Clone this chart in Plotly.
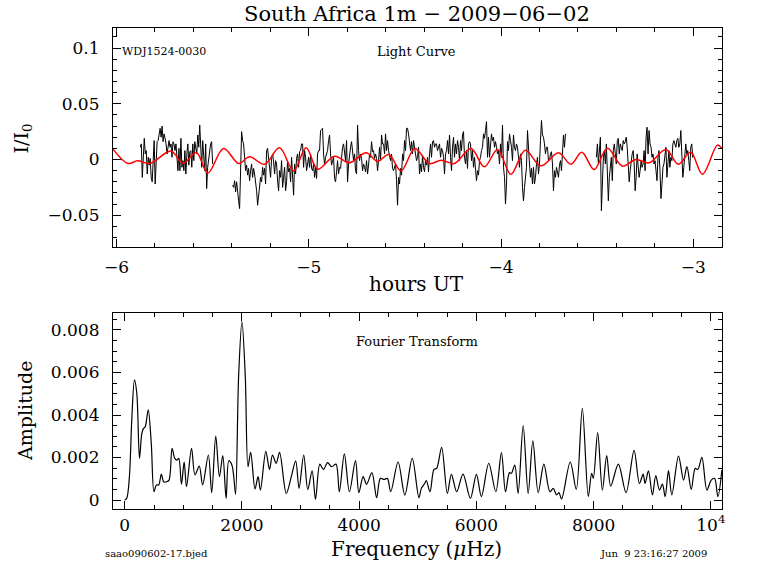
import numpy as np
import plotly.graph_objects as go

# ---------------- Light curve data (flux in units of 1e-3 I/I0) ----------------
seg_a_start, seg_a_end = -5.876, -5.500
seg_a_flux = [11,14,-16,11,19,5,8,-13,2,-5,1,-16,-20,-1,17,-22,5,16,17,23,28,20,30,16,23,19,14,5,11,17,
              11,14,2,16,14,8,14,4,-10,10,-10,19,-7,-1,-10,8,-13,5,14,-5,7,8,-7,14,-1,16,11,5,22,11,
              31,5,-7,17,7,-10,14,-26,-7,2,5,14,16,-4]

seg_b_start, seg_b_end = -5.396, -3.665
seg_b_flux = [-23,-25,-19,-29,-20,-32,-37,-44,-13,25,17,14,2,-10,-5,-14,-8,-19,-10,-4,-16,-8,-13,-19,-28,-41,-31,-22,-16,-20,
              -7,-14,-8,-22,8,10,-1,-5,-16,1,5,
              -2,-13,-1,-4,-19,-28,-10,-16,-1,-25,-16,-7,-28,-20,-1,-11,-8,-20,2,-16,-32,-4,-13,1,5,-7,7,8,14,14,
              -7,8,2,-10,-4,2,-7,5,-8,-10,-4,-16,-7,-17,5,8,8,26,27,28,5,-5,2,5,8,17,22,5,-5,-1,2,-17,-20,-11,
              -1,-13,-7,-8,5,11,14,7,-1,17,-20,-4,5,11,16,8,-1,5,-10,-13,31,8,-1,5,1,-10,-4,-7,-11,-1,-13,-5,
              5,2,16,7,8,1,5,1,-10,-1,11,-1,22,14,14,5,23,8,17,8,2,-1,5,-8,-10,-7,-4,-19,-41,-16,-22,-8,-14,5,
              -1,17,8,28,28,23,14,8,16,5,17,11,8,-1,2,11,-13,-4,-11,4,-7,-11,-1,-5,2,
              -11,5,14,2,16,17,11,14,14,8,11,14,2,10,8,2,-13,5,8,17,5,22,2,-10,11,20,2,14,5,17,11,-1,17,8,22,
              25,2,-4,8,-8,14,16,14,-1,8,-7,2,-11,-19,-10,-14,-1,2,8,11,23,19,26,34,2,20,2,11,23,17,20,11,16,
              11,5,8,-4,14,2,31,-7,-16,-40,-22,16,8,23,17,11,-1,22,11,8,14,11,2,-7,5,-1,-25,-37,-25,-14,-7,26,
              5,-4,-16,-8,-22,-7,-22,-16,-4,2,-13,-4,17,35,22,20,14,5,11,11,-1,-1,5,7,-4,-28,-10,-16,-7,-11,
              -16,-5,-1,-10,14,22,11,23]

seg_c_start, seg_c_end = -3.504, -2.998
seg_c_flux = [2,14,-4,8,20,-46,-16,2,8,-4,14,-25,-37,-16,-4,2,-19,8,14,5,-4,17,19,5,14,11,8,17,14,16,
              20,11,-4,-20,-10,-1,5,8,-4,-28,-16,5,-4,-16,-10,-1,-7,-4,8,-10,20,29,5,26,14,11,2,5,-4,-1,
              -10,-19,2,8,-10,-35,-22,-7,-4,8,11,-16,-1,8,-7,2,-1,14,17,14,11,17,19,11,14,26,2,-16,-7,2,
              14,5,8,-1,-10,11,14,2,5]

# Red model curve (extrema, hours / flux 1e-3)
red_t = [-6.018,-5.940,-5.890,-5.828,-5.715,-5.655,-5.585,-5.525,-5.443,-5.364,
         -5.308,-5.230,-5.152,-5.079,-5.014,-4.953,-4.866,-4.789,-4.702,-4.642,
         -4.584,-4.520,-4.448,-4.373,-4.312,-4.243,-4.156,-4.087,-4.018,-3.949,
         -3.874,-3.793,-3.701,-3.637,-3.580,-3.516,-3.447,-3.369,-3.299,-3.230,
         -3.143,-3.078,-3.014,-2.953,-2.875,-2.852]
red_f = [9.3,-3.6,-1.2,-3.6,7.5,-3.6,6.3,-12.0,9.9,-3.6,
         2.4,-4.2,10.5,-10.2,10.5,-8.7,3.0,-3.0,6.0,-1.5,
         4.5,-10.2,9.9,-3.6,-0.6,-3.6,9.9,-6.6,9.0,-13.2,
         8.4,-5.7,6.0,-4.2,6.6,-9.0,10.2,-6.0,0.0,-3.0,
         9.0,-4.2,6.6,-13.2,12.9,9.9]

# ---------------- Fourier transform (frequency in uHz, amplitude in 1e-3) ----------------
ft_freq = [0,34,80,120,166,206,252,292,321,350,401,453,499,539,579,625,665,711,756,808,
           854,894,923,968,1014,1054,1140,1198,1272,1329,1427,1484,1553,1616,1673,1730,1776,1828,1857,1891,
           1943,2000,2057,2103,2149,2223,2275,2315,2407,2470,2521,2584,2642,2756,2842,2917,2974,3054,3123,3197,
           3255,3329,3392,3461,3530,3604,3661,3747,3833,3937,3994,4068,4126,4217,4298,4361,4424,4481,4538,4664,
           4779,4905,5019,5060,5117,5145,5208,5276,5322,5407,5504,5573,5664,5772,5897,6000,6085,6211,6331,6427,
           6496,6564,6598,6655,6712,6798,6883,6963,7054,7151,7254,7311,7368,7408,7453,7601,7704,7807,7909,7966,
           7995,8069,8149,8223,8291,8422,8553,8690,8781,8844,8878,8935,9003,9060,9123,9174,9220,9277,9334,9448,
           9534,9591,9665,9733,9778,9847,9932,10006,10063,10120,10188]
ft_amp = [0.0,0.08,1.10,3.77,5.65,5.02,1.96,3.14,3.37,3.45,4.24,2.67,0.39,0.71,0.71,1.22,0.86,0.86,0.94,2.43,
          1.96,1.88,1.96,0.74,1.80,0.63,2.43,1.18,1.60,0.71,2.12,0.35,3.01,1.10,2.09,0.08,1.85,1.65,1.18,0.27,
          5.81,8.39,5.81,1.57,2.24,0.52,1.10,0.47,2.29,1.44,2.12,1.73,2.24,0.31,1.10,1.84,0.55,2.12,0.50,1.37,
          0.03,1.69,1.44,1.76,1.57,1.69,0.39,2.17,0.39,1.85,0.35,1.10,0.74,1.29,0.11,1.02,0.97,1.02,0.39,1.79,
          0.24,1.96,0.11,0.55,0.78,0.91,0.39,1.44,1.49,2.48,0.31,1.21,0.39,1.22,0.08,1.21,0.16,1.73,0.39,2.23,
          0.39,1.29,1.26,1.65,0.31,3.50,0.31,2.78,0.35,1.69,0.39,0.55,0.24,0.35,0.05,1.79,0.50,4.31,0.16,1.26,
          1.02,3.17,0.47,2.09,0.66,1.69,0.35,2.34,0.78,1.22,0.78,1.37,0.24,1.15,0.47,0.75,0.16,1.38,0.24,2.07,
          0.94,1.57,0.50,1.49,1.44,2.01,0.47,0.94,1.02,0.16,1.41]

# tick labels
lc_xticks = [-6, -5, -4, -3]
lc_xticktext = ["\u22126", "\u22125", "\u22124", "\u22123"]
lc_yticks = [-0.05, 0, 0.05, 0.1]
lc_yticktext = ["\u22120.05", "0", "0.05", "0.1"]
ft_xticks = [0, 2000, 4000, 6000, 8000, 10000]
ft_xticktext = ["0", "2000", "4000", "6000", "8000", "10<sup>4</sup>"]
ft_yticks = [0, 0.002, 0.004, 0.006, 0.008]
ft_yticktext = ["0", "0.002", "0.004", "0.006", "0.008"]

# ---------------- Build traces ----------------
def seg(start, end, vals):
    t = np.linspace(start, end, len(vals))
    return list(t), [v * 1e-3 for v in vals]

xs, ys = [], []
for s, e, v in [(seg_a_start, seg_a_end, seg_a_flux), (seg_b_start, seg_b_end, seg_b_flux),
                (seg_c_start, seg_c_end, seg_c_flux)]:
    t, f = seg(s, e, v)
    xs += t + [None]
    ys += f + [None]

FONT = "DejaVu Serif"

fig = go.Figure()
fig.add_trace(go.Scatter(x=xs, y=ys, mode="lines", line=dict(color="black", width=1),
                         connectgaps=False, xaxis="x", yaxis="y", showlegend=False))
fig.add_trace(go.Scatter(x=red_t, y=[v * 1e-3 for v in red_f], mode="lines",
                         line=dict(color="#ff0000", width=1.5, shape="spline", smoothing=1.0),
                         xaxis="x", yaxis="y", showlegend=False))
fig.add_trace(go.Scatter(x=ft_freq, y=[a * 1e-3 for a in ft_amp], mode="lines",
                         line=dict(color="black", width=1.2, shape="spline", smoothing=0.9),
                         xaxis="x2", yaxis="y2", showlegend=False))

axis_common = dict(showline=True, linecolor="black", linewidth=1.2, mirror="ticks",
                   ticks="inside", tickcolor="black", tickwidth=1, ticklen=8,
                   showgrid=False, zeroline=False,
                   tickfont=dict(family=FONT, size=17, color="black"))

fig.update_layout(
    width=768, height=574,
    margin=dict(l=113, r=46, t=28, b=65),
    paper_bgcolor="white", plot_bgcolor="white",
    xaxis=dict(axis_common, domain=[0, 1], anchor="y", range=[-6.018, -2.851],
               tickvals=lc_xticks, ticktext=lc_xticktext, ticklabelstandoff=5,
               minor=dict(dtick=0.2, ticks="inside", ticklen=4, tickcolor="black", tickwidth=1)),
    yaxis=dict(axis_common, domain=[0.5447, 1], anchor="x", range=[-0.0785, 0.118],
               tickvals=lc_yticks, ticktext=lc_yticktext, ticklabelstandoff=9,
               minor=dict(dtick=0.01, tick0=0, ticks="inside", ticklen=4, tickcolor="black", tickwidth=1)),
    xaxis2=dict(axis_common, domain=[0, 1], anchor="y2", range=[-200, 10190],
                tickvals=ft_xticks, ticktext=ft_xticktext, ticklabelstandoff=0,
                minor=dict(dtick=500, ticks="inside", ticklen=4, tickcolor="black", tickwidth=1)),
    yaxis2=dict(axis_common, domain=[0, 0.4081], anchor="x2", range=[-0.00042, 0.00881],
                tickvals=ft_yticks, ticktext=ft_yticktext, ticklabelstandoff=9,
                minor=dict(dtick=0.0005, tick0=0, ticks="inside", ticklen=4, tickcolor="black", tickwidth=1)),
)

def ann(text, x, y, size, xanchor="center", angle=0):
    fig.add_annotation(text=text, x=x, y=y, xref="paper", yref="paper", showarrow=False,
                       xanchor=xanchor, yanchor="middle", textangle=angle,
                       font=dict(family=FONT, size=size, color="black"))

ann("South Africa 1m \u2212 2009\u221206\u221202", 0.499, 1.029, 21)
ann("WDJ1524-0030", 0.0115, 0.952, 11, xanchor="left")
ann("Light Curve", 0.499, 0.952, 13)
ann("hours UT", 0.499, 0.468, 20)
ann("I/I<sub>0</sub>", -0.149, 0.771, 19, angle=-90)
ann("Fourier Transform", 0.499, 0.349, 13)
ann("Amplitude", -0.1445, 0.204, 19, angle=-90)
ann("Frequency (<i>\u03bc</i>Hz)", 0.499, -0.083, 20)
ann("saao090602-17.bjed", -0.0164, -0.0915, 10, xanchor="left")
ann("Jun\u00a0\u00a09 23:16:27 2009", 0.979, -0.0915, 10, xanchor="right")

fig.write_html("out.html",
               config={"displayModeBar": False},
               post_script="document.body.style.margin='0px';document.body.style.overflow='hidden';")
